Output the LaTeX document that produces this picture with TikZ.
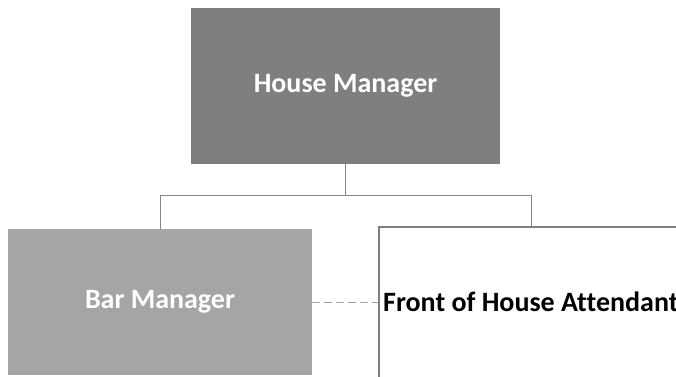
\documentclass[tikz,border=0pt]{standalone}
\usepackage{fontspec}
\setmainfont{Carlito}[Ligatures=CommonOff]
\definecolor{hmgray}{HTML}{7F7F7F}
\definecolor{bargray}{HTML}{A5A5A5}
\definecolor{linegray}{HTML}{868686}

\begin{document}
\begin{tikzpicture}[x=1pt,y=-1pt,
    mgr/.style={fill=#1, text=white, font=\fontsize{28}{34}\selectfont\bfseries, inner sep=0pt},
    fohbox/.style={draw=hmgray, line width=2pt, fill=white, inner sep=0pt},
    conn/.style={draw=linegray, line width=1pt},
    dashline/.style={draw=bargray, line width=1pt, dash pattern=on 8pt off 4pt}]
  \useasboundingbox (0,0) rectangle (676,376);
  \clip (0,0) rectangle (676,376);

  \node[mgr=hmgray, minimum width=309, minimum height=156] (house) at (345.5,86) {House Manager};
  \node[mgr=bargray, minimum width=304, minimum height=146] (bar) at (160,302) {Bar Manager};
  \node[fohbox, minimum width=304, minimum height=160] (foh) at (531,307) {};
  \node[anchor=west, font=\fontsize{28}{34}\selectfont\bfseries, inner sep=0pt] (fohtext) at ([xshift=5pt]foh.west |- bar.east) {Front of House Attendant};

  \draw[conn] (house.south) -- ++(0,31) coordinate (bus) -| (bar.north);
  \draw[conn] (bus) -| (foh.north);
  \draw[dashline] (bar.east) -- (foh.west |- bar.east);
\end{tikzpicture}
\end{document}
